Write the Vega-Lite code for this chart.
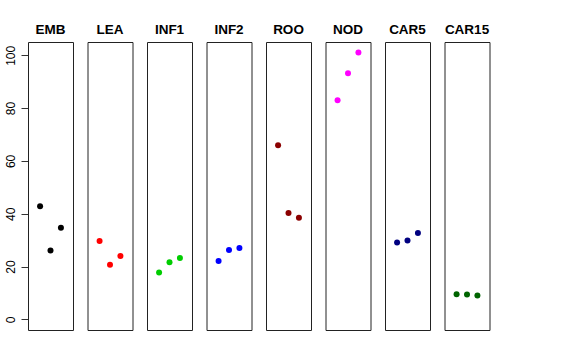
{
  "$schema": "https://vega.github.io/schema/vega-lite/v6.json",
  "padding": {"left": 3, "top": 22, "right": 5, "bottom": 5},
  "background": "white",
  "bounds": "flush",
  "data": {"values": [
    {"tissue": "EMB", "rep": 1, "value": 42.8},
    {"tissue": "EMB", "rep": 2, "value": 26.1},
    {"tissue": "EMB", "rep": 3, "value": 34.7},
    {"tissue": "LEA", "rep": 1, "value": 29.7},
    {"tissue": "LEA", "rep": 2, "value": 20.7},
    {"tissue": "LEA", "rep": 3, "value": 24.0},
    {"tissue": "INF1", "rep": 1, "value": 17.7},
    {"tissue": "INF1", "rep": 2, "value": 21.6},
    {"tissue": "INF1", "rep": 3, "value": 23.2},
    {"tissue": "INF2", "rep": 1, "value": 22.1},
    {"tissue": "INF2", "rep": 2, "value": 26.3},
    {"tissue": "INF2", "rep": 3, "value": 27.0},
    {"tissue": "ROO", "rep": 1, "value": 65.9},
    {"tissue": "ROO", "rep": 2, "value": 40.3},
    {"tissue": "ROO", "rep": 3, "value": 38.5},
    {"tissue": "NOD", "rep": 1, "value": 83.0},
    {"tissue": "NOD", "rep": 2, "value": 93.2},
    {"tissue": "NOD", "rep": 3, "value": 101.1},
    {"tissue": "CAR5", "rep": 1, "value": 29.1},
    {"tissue": "CAR5", "rep": 2, "value": 29.9},
    {"tissue": "CAR5", "rep": 3, "value": 32.7},
    {"tissue": "CAR15", "rep": 1, "value": 9.5},
    {"tissue": "CAR15", "rep": 2, "value": 9.4},
    {"tissue": "CAR15", "rep": 3, "value": 9.0}
  ]},
  "facet": {
    "column": {
      "field": "tissue",
      "type": "nominal",
      "sort": ["EMB", "LEA", "INF1", "INF2", "ROO", "NOD", "CAR5", "CAR15"],
      "title": null,
      "header": {
        "labelFont": "Liberation Sans",
        "labelFontSize": 13.5,
        "labelFontWeight": "bold",
        "labelColor": "black",
        "labelPadding": 6
      }
    }
  },
  "spacing": 14.5,
  "spec": {
    "width": 45,
    "height": 288,
    "mark": {"type": "circle", "size": 36, "opacity": 1},
    "encoding": {
      "x": {
        "field": "rep", "type": "quantitative",
        "scale": {"domain": [-0.16, 4.16], "nice": false, "zero": false},
        "axis": null
      },
      "y": {
        "field": "value", "type": "quantitative",
        "scale": {"domain": [-4.04, 105.04], "nice": false, "zero": false},
        "axis": {
          "values": [0, 20, 40, 60, 80, 100],
          "title": null,
          "domain": false,
          "grid": false,
          "tickSize": 7,
          "tickColor": "#333333",
          "labelAngle": 270,
          "labelAlign": "center",
          "labelBaseline": "bottom",
          "labelPadding": 4,
          "labelFont": "Liberation Sans",
          "labelFontSize": 12,
          "labelColor": "black"
        }
      },
      "color": {
        "field": "tissue", "type": "nominal",
        "scale": {
          "domain": ["EMB", "LEA", "INF1", "INF2", "ROO", "NOD", "CAR5", "CAR15"],
          "range": ["#000000", "#FF0000", "#00CD00", "#0000FF", "#8B0000", "#FF00FF", "#000080", "#006400"]
        },
        "legend": null
      }
    }
  },
  "config": {
    "view": {"stroke": "#222222", "strokeWidth": 1}
  }
}
